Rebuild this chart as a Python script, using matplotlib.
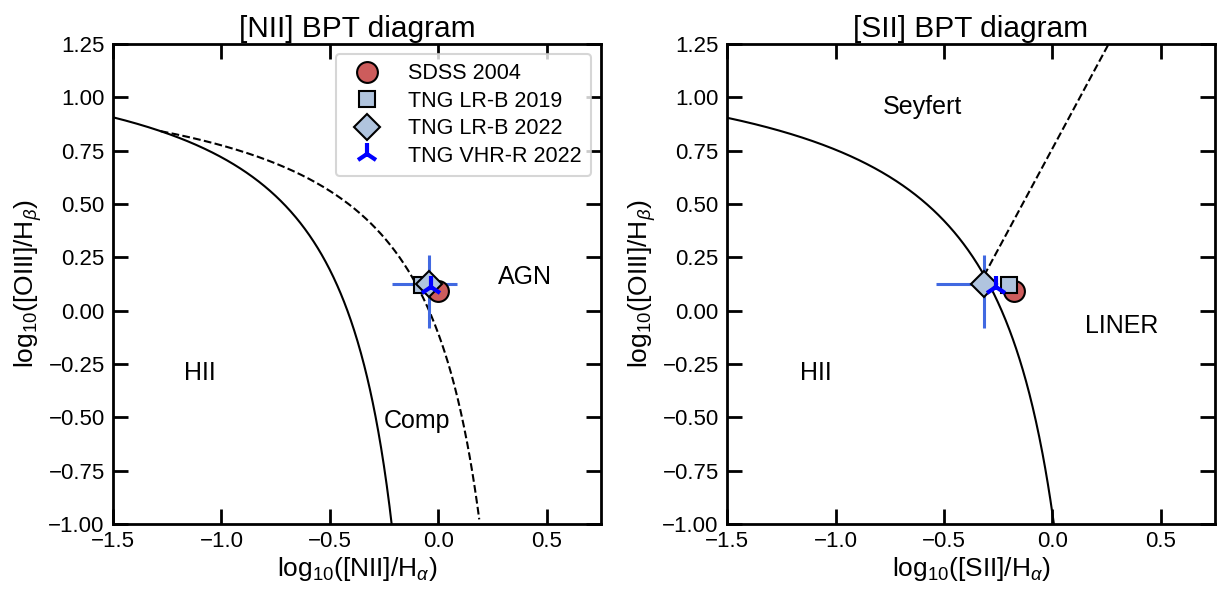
import numpy as np
import matplotlib
matplotlib.use("Agg")
import matplotlib.pyplot as plt

plt.rcParams['font.family'] = ['Liberation Sans', 'DejaVu Sans']
plt.rcParams['mathtext.fontset'] = 'custom'
plt.rcParams['mathtext.rm'] = 'Liberation Sans'
plt.rcParams['mathtext.it'] = 'Liberation Sans:italic'
plt.rcParams['mathtext.bf'] = 'Liberation Sans:bold'

# data
y_obs = {'sdss': 0.09, 'lrb19': 0.12, 'lrb22': 0.125, 'vhr22': 0.11}
nii_x = {'sdss': 0.0, 'lrb19': -0.075, 'lrb22': -0.042, 'vhr22': -0.035}
sii_x = {'sdss': -0.176, 'lrb19': -0.199, 'lrb22': -0.315, 'vhr22': -0.26}

# error bars on TNG LR-B 2022 (lower, upper)
nii_xerr = [0.171, 0.13]
sii_xerr = [0.222, 0.02]
y_err = [0.206, 0.136]

yticks = [1.25, 1.00, 0.75, 0.50, 0.25, 0.00, -0.25, -0.50, -0.75, -1.00]
xticks = [-1.5, -1.0, -0.5, 0.0, 0.5]

labels = ['SDSS 2004', 'TNG LR-B 2019', 'TNG LR-B 2022', 'TNG VHR-R 2022']


def kauffmann(x):
    return 0.61 / (x - 0.05) + 1.3


def kewley_nii(x):
    return 0.61 / (x - 0.47) + 1.19


def kewley_sii(x):
    return 0.72 / (x - 0.32) + 1.30


def seyfert_liner(x):
    return 1.89 * x + 0.76


fig = plt.figure(figsize=(12.22, 5.91), dpi=100)
ax1 = fig.add_axes([0.0925, 0.1134, 0.3993, 0.8121])
ax2 = fig.add_axes([0.5950, 0.1134, 0.3993, 0.8121])


def style(ax, xlab, title):
    ax.set_xlim(-1.5, 0.75)
    ax.set_ylim(-1.0, 1.25)
    ax.set_xticks(xticks)
    ax.set_yticks(yticks)
    ax.set_xticklabels([f"{v:.1f}".replace('-', '\u2212') for v in xticks])
    ax.set_yticklabels([f"{v:.2f}".replace('-', '\u2212') for v in yticks])
    ax.tick_params(direction='in', top=True, right=True, length=11, width=2,
                   labelsize=16)
    ax.tick_params(axis='y', pad=6)
    ax.tick_params(axis='x', pad=5)
    for s in ax.spines.values():
        s.set_linewidth(2)
    ax.set_xlabel(xlab, fontsize=19, labelpad=2)
    ax.set_ylabel(r"log$_{10}$([OIII]/H$_{\beta}$)", fontsize=19, labelpad=3)
    ax.set_title(title, fontsize=21.5, pad=5)


def points(ax, xd, xerr):
    ax.errorbar(xd['lrb22'], y_obs['lrb22'], xerr=[[xerr[0]], [xerr[1]]],
                yerr=[[y_err[0]], [y_err[1]]], fmt='none', ecolor='#4169e1',
                elinewidth=2.2, capsize=0, zorder=3)
    ax.plot(xd['sdss'], y_obs['sdss'], 'o', ms=15, mfc='indianred', mec='k',
            mew=1.5, ls='none', label=labels[0], zorder=4)
    ax.plot(xd['lrb19'], y_obs['lrb19'], 's', ms=11, mfc='lightsteelblue', mec='k',
            mew=1.5, ls='none', label=labels[1], zorder=5)
    ax.plot(xd['lrb22'], y_obs['lrb22'], 'D', ms=13, mfc='lightsteelblue', mec='k',
            mew=1.5, ls='none', label=labels[2], zorder=6)
    ax.plot(xd['vhr22'], y_obs['vhr22'], '2', ms=16, mec='blue', mew=3,
            ls='none', label=labels[3], zorder=7)


# [NII] panel
xk = np.linspace(-1.5, 0.049, 600)
xk = xk[kauffmann(xk) > -1.05]
ax1.plot(xk, kauffmann(xk), 'k-', lw=1.5)
xw = np.linspace(-1.28, 0.469, 600)
xw = xw[kewley_nii(xw) > -1.0]
ax1.plot(xw, kewley_nii(xw), 'k--', lw=1.5)
points(ax1, nii_x, nii_xerr)
style(ax1, r"log$_{10}$([NII]/H$_{\alpha}$)", "[NII] BPT diagram")
ax1.text(-1.1, -0.29, "HII", fontsize=18, ha='center', va='center')
ax1.text(-0.1, -0.515, "Comp", fontsize=18, ha='center', va='center')
ax1.text(0.4, 0.16, "AGN", fontsize=18, ha='center', va='center')
leg = ax1.legend(loc='upper right', fontsize=15.5, frameon=True, borderaxespad=0.45,
                 handletextpad=0.9, labelspacing=0.3, borderpad=0.45)
leg.get_frame().set_edgecolor('#cccccc')
leg.get_frame().set_linewidth(1.5)

# [SII] panel
xs = np.linspace(-1.5, 0.319, 600)
xs = xs[kewley_sii(xs) > -1.05]
ax2.plot(xs, kewley_sii(xs), 'k-', lw=1.5)
xl = np.linspace(-0.315, 0.26, 100)
ax2.plot(xl, seyfert_liner(xl), 'k--', lw=1.5)
points(ax2, sii_x, sii_xerr)
style(ax2, r"log$_{10}$([SII]/H$_{\alpha}$)", "[SII] BPT diagram")
ax2.text(-1.09, -0.29, "HII", fontsize=18, ha='center', va='center')
ax2.text(-0.6, 0.955, "Seyfert", fontsize=18, ha='center', va='center')
ax2.text(0.32, -0.07, "LINER", fontsize=18, ha='center', va='center')

fig.savefig("out.png", dpi=100)
